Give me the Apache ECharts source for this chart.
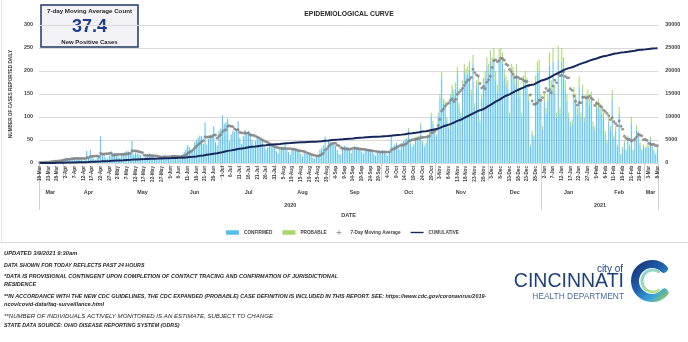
<!DOCTYPE html>
<html>
<head>
<meta charset="utf-8">
<script src="https://cdn.jsdelivr.net/npm/echarts@6/dist/echarts.min.js"></script>
<style>
html,body{margin:0;padding:0;background:#ffffff;}
#c{width:688px;height:342px;}
</style>
</head>
<body>
<div id="c"></div>
<script>
// ---------------- DATA ----------------
const startDate = '2020-03-18';
const dayCount = 356;            // 18-Mar-2020 .. 8-Mar-2021
const monthNames = ['Jan','Feb','Mar','Apr','May','Jun','Jul','Aug','Sep','Oct','Nov','Dec'];
const leftAxis = {min: 0, max: 300, step: 50};
const rightAxis = {min: 0, max: 30000, step: 5000};

// Confirmed cases reported daily
const confirmed = [
  // Mar 18-31 2020
  1,1,2,3,1,4,3,5,4,6,5,3,7,8,
  // Apr
  9,12,11,8,6,10,12,11,13,10, 7,5,9,26,12,28,14,9,7,12, 16,58,18,17,11,9,16,24,22,22,
  // May
  21,15,11,18,22,24,26,25,20,48, 18,22,20,19,18,12,10,15,19,21, 18,16,10,8,9,14,15,17,18,11,9,
  // Jun
  12,16,18,17,15,10,8,18,24,30, 39,34,26,28,45,50,55,60,58,42, 88,40,52,60,62,80,45,38,70,75,
  // Jul
  104,85,88,96,48,62,70,68,72,90, 55,42,58,72,66,70,64,50,38,48, 58,55,52,48,36,28,34,42,38,36,35,
  // Aug
  26,20,30,36,34,41,32,24,18,28, 32,30,29,27,20,14,22,20,19,18, 16,12,9,14,18,28,32,38,57,30,48,
  // Sep
  45,42,40,38,28,20,18,34,38,36, 35,30,22,28,36,34,33,31,25,20, 26,30,30,28,27,20,16,22,27,26,
  // Oct
  28,27,20,16,24,57,36,40,44,34, 28,38,48,52,52,71,43,34,40,52, 54,56,82,45,36,43,58,63,101,85,65,
  // Nov
  58,102,140,184,130,125,93,74,139,158, 148,162,194,121,102,167,199,190,194,203, 148,217,120,166,175,88,139,171,185,212,
  // Dec
  195,221,208,224,180,154,223,224,216,185, 172,162,100,193,189,171,193,162,144,100, 171,180,166,135,36,63,54,170,196,200,135,
  // Jan 2021
  72,134,108,135,212,160,220,152,98,224, 107,220,204,160,134,98,80,85,147,134, 107,166,98,150,89,134,142,125,138,80,71,
  // Feb
  120,124,116,107,98,62,44,89,71,140, 53,71,35,107,18,31,44,26,52,35, 86,26,48,72,61,39,26,35,
  // Mar 1-8
  31,35,34,50,37,26,18,31
];

// Probable cases reported daily
const probable = [
  // Mar 18-31 2020
  0,0,0,0,0,0,0,0,0,0,0,0,0,0,
  // Apr
  0,0,0,0,0,0,0,0,0,0, 0,0,0,0,0,0,0,0,0,0, 0,0,0,0,0,0,0,0,0,0,
  // May
  0,0,0,0,0,0,0,0,0,0, 0,0,0,0,0,0,0,0,0,0, 0,0,0,0,0,0,0,0,0,0,0,
  // Jun
  0,0,0,0,0,0,0,0,0,0, 0,0,0,0,0,0,0,0,0,0, 0,0,0,0,0,0,0,0,0,0,
  // Jul
  0,0,0,0,0,0,0,0,0,0, 0,0,0,0,0,0,0,0,0,0, 0,0,0,0,0,0,0,0,0,0,0,
  // Aug
  0,0,0,0,0,0,0,0,0,0, 0,0,0,0,0,0,0,0,0,0, 0,0,0,0,0,0,0,0,0,0,0,
  // Sep
  0,0,0,0,0,0,0,0,0,0, 0,0,0,0,0,0,0,0,0,0, 0,0,0,0,0,0,0,0,0,0,
  // Oct
  0,0,0,0,0,0,0,0,0,0, 0,0,0,0,3,5,2,2,2,4, 4,4,6,3,2,3,4,5,8,7,5,
  // Nov
  4,8,10,14,10,10,7,6,11,12, 12,13,15,9,8,13,16,15,16,17, 12,18,10,14,15,7,11,14,15,18,
  // Dec
  20,24,22,26,20,16,25,26,24,20, 18,18,10,22,21,19,22,18,16,10, 19,20,19,15,4,7,6,20,24,25,15,
  // Jan 2021
  8,16,12,15,28,20,30,18,12,32, 13,30,26,20,16,12,10,10,18,16, 13,22,12,20,11,16,18,15,17,10,9,
  // Feb
  15,16,14,13,12,8,6,11,9,18, 7,9,5,15,2,4,6,4,8,5, 14,4,7,11,9,6,4,5,
  // Mar 1-8
  4,5,4,7,5,4,2,4
];

const boxTitle = '7-day Moving Average Count';
const boxSubtitle = 'New Positive Cases';
const chartTitle = 'EPIDEMIOLOGICAL CURVE';
const yAxisTitle = 'NUMBER OF CASES REPORTED DAILY';
const xAxisTitle = 'DATE';
const legendNames = ['CONFIRMED', 'PROBABLE', '7-Day Moving Average', 'CUMULATIVE'];
const footnoteLines = [
  'UPDATED 3/9/2021 9:30am',
  'DATA SHOWN FOR TODAY REFLECTS PAST 24 HOURS',
  '*DATA IS PROVISIONAL CONTINGENT UPON COMPLETION OF CONTACT TRACING AND CONFIRMATION OF JURISDICTIONAL',
  'RESIDENCE',
  '**IN ACCORDANCE WITH THE NEW CDC GUIDELINES, THE CDC EXPANDED (PROBABLE) CASE DEFINITION IS INCLUDED IN THIS REPORT. SEE: https://www.cdc.gov/coronavirus/2019-',
  'ncov/covid-data/faq-surveillance.html',
  '**NUMBER OF INDIVIDUALS ACTIVELY MONITORED IS AN ESTIMATE, SUBJECT TO CHANGE',
  'STATE DATA SOURCE: OHIO DISEASE REPORTING SYSTEM (ODRS)'
];

// ---------------- DERIVED ----------------
const dates = [];
(function(){
  const p = startDate.split('-').map(Number);
  for (let i = 0; i < dayCount; i++) {
    const d = new Date(Date.UTC(p[0], p[1] - 1, p[2] + i));
    dates.push(d.toISOString().slice(0, 10));
  }
})();
const totals = confirmed.map((v, i) => v + probable[i]);
const movingAvg = totals.map((v, i) => {
  const s = Math.max(0, i - 6);
  let sum = 0;
  for (let k = s; k <= i; k++) sum += totals[k];
  return +(sum / (i - s + 1)).toFixed(2);
});
const cumulative = [];
totals.reduce((acc, v) => { acc += v; cumulative.push(acc); return acc; }, 0);

// month / year segments for multi-level axis
const monthStart = new Set(), monthMid = new Set(), yearStart = new Set(), yearMid = new Set();
(function(){
  let segStart = 0, ySegStart = 0;
  for (let i = 1; i <= dates.length; i++) {
    const newMonth = i === dates.length || dates[i].slice(5, 7) !== dates[i - 1].slice(5, 7);
    if (newMonth) {
      monthMid.add(Math.floor((segStart + i - 1) / 2));
      if (i < dates.length) monthStart.add(i);
      segStart = i;
    }
    const newYear = i === dates.length || dates[i].slice(0, 4) !== dates[i - 1].slice(0, 4);
    if (newYear) {
      yearMid.add(Math.floor((ySegStart + i - 1) / 2));
      if (i < dates.length) yearStart.add(i);
      ySegStart = i;
    }
  }
})();

// ---------------- CHART ----------------
const FONT = '"Liberation Sans",Arial,sans-serif';
const LOGOFONT = '"Liberation Sans","DejaVu Sans",sans-serif';
const TXT = '#404040';
const chart = echarts.init(document.getElementById('c'), null, {renderer: 'canvas', width: 688, height: 342});

const dayLabel = v => (+v.slice(8)) + '-' + monthNames[+v.slice(5, 7) - 1];
const baseX = {type: 'category', data: dates, gridIndex: 0, boundaryGap: true, position: 'bottom'};

const footY = [253, 266, 276, 284, 296, 304, 316, 326];
const footFont = ['italic bold 5.8px ', 'italic bold 5.3px ', 'italic bold 5.5px ', 'italic bold 5.5px ',
                  'italic bold 5.45px ', 'italic bold 5.6px ', 'italic 6.1px ', 'italic bold 5.35px '];
const footGraphics = footnoteLines.map((t, i) => ({
  type: 'text', silent: true,
  style: {
    text: t, x: 4, y: footY[i], textVerticalAlign: 'middle',
    fill: '#262626',
    font: footFont[i] + FONT
  }
}));

const option = {
  animation: false,
  backgroundColor: '#ffffff',
  textStyle: {fontFamily: FONT},
  grid: {left: 35.8, right: 29.7, top: 25, bottom: 179, containLabel: false},
  legend: {
    left: 226, top: 230, padding: 0, itemWidth: 13, itemHeight: 4.5, itemGap: 10,
    textStyle: {fontSize: 4.7, fontWeight: 'bold', color: TXT, fontFamily: FONT},
    data: [
      {name: legendNames[0], icon: 'rect'},
      {name: legendNames[1], icon: 'rect'},
      {name: legendNames[2], icon: 'path://M2,0H3V2H5V3H3V5H2V3H0V2H2Z'},
      {name: legendNames[3], icon: 'path://M0,0H17V1.8H0Z'}
    ]
  },
  xAxis: [
    Object.assign({}, baseX, {
      axisLine: {show: true, lineStyle: {color: '#d9d9d9'}},
      axisTick: {show: false},
      axisLabel: {interval: 4, rotate: 90, margin: 3, fontSize: 4.7, fontWeight: 'bold', color: TXT, formatter: dayLabel},
      name: xAxisTitle, nameLocation: 'middle', nameGap: 49,
      nameTextStyle: {fontSize: 5.6, fontWeight: 'bold', color: TXT}
    }),
    Object.assign({}, baseX, {
      offset: 19,
      axisLine: {show: false},
      axisTick: {show: true, interval: (i) => monthStart.has(i), length: 18, lineStyle: {color: '#d0d0d0'}},
      axisLabel: {interval: (i) => monthMid.has(i), margin: 8, fontSize: 5.4, fontWeight: 'bold', color: TXT,
        formatter: v => monthNames[+v.slice(5, 7) - 1]}
    }),
    Object.assign({}, baseX, {
      offset: 19,
      axisLine: {show: false},
      axisTick: {show: true, interval: (i) => i === 0 || yearStart.has(i), length: 28, lineStyle: {color: '#d0d0d0'}},
      axisLabel: {interval: (i) => yearMid.has(i), margin: 21, fontSize: 5.4, fontWeight: 'bold', color: TXT,
        formatter: v => v.slice(0, 4)}
    }),
    Object.assign({}, baseX, {
      offset: 0,
      axisLine: {show: false},
      axisTick: {show: true, interval: (i) => i === 0, length: 47, lineStyle: {color: '#d0d0d0'}},
      axisLabel: {show: false}
    })
  ],
  yAxis: [
    {
      type: 'value', min: leftAxis.min, max: leftAxis.max, interval: leftAxis.step,
      axisLine: {show: false}, axisTick: {show: false},
      splitLine: {lineStyle: {color: '#d9d9d9'}},
      axisLabel: {margin: 6, fontSize: 5.4, fontWeight: 'bold', color: TXT, formatter: v => String(v)},
      name: yAxisTitle, nameLocation: 'middle', nameGap: 17, nameRotate: 90,
      nameTextStyle: {fontSize: 4.7, fontWeight: 'bold', color: TXT}
    },
    {
      type: 'value', position: 'right', min: rightAxis.min, max: rightAxis.max, interval: rightAxis.step,
      axisLine: {show: false}, axisTick: {show: false}, splitLine: {show: false},
      axisLabel: {margin: 7, fontSize: 5.4, fontWeight: 'bold', color: TXT, formatter: v => String(v)}
    }
  ],
  series: [
    {name: legendNames[0], type: 'bar', stack: 'daily', data: confirmed, xAxisIndex: 0, yAxisIndex: 0,
      barCategoryGap: '42%', itemStyle: {color: '#55c0ec'}, z: 2},
    {name: legendNames[1], type: 'bar', stack: 'daily', data: probable, xAxisIndex: 0, yAxisIndex: 0,
      itemStyle: {color: '#a8d66a'}, z: 2},
    {name: legendNames[2], type: 'scatter', data: movingAvg, xAxisIndex: 0, yAxisIndex: 0,
      symbol: 'circle', symbolSize: 2.9, itemStyle: {color: '#7f7f7f'}, z: 4},
    {name: legendNames[3], type: 'line', data: cumulative, xAxisIndex: 0, yAxisIndex: 1,
      symbol: 'none', showSymbol: false, lineStyle: {color: '#17275a', width: 2}, itemStyle: {color: '#17275a'}, z: 5}
  ],
  graphic: [
    // outer frame lines
    {type: 'line', silent: true, shape: {x1: 0, y1: 242.5, x2: 688, y2: 242.5}, style: {stroke: '#d9d9d9', lineWidth: 1}},
    {type: 'line', silent: true, shape: {x1: 1.5, y1: 0, x2: 1.5, y2: 242.5}, style: {stroke: '#e6e6e6', lineWidth: 1}},
    // title
    {type: 'text', silent: true, style: {text: chartTitle, x: 349, y: 14, textAlign: 'center', textVerticalAlign: 'middle',
      fill: '#262626', font: 'bold 6.8px ' + FONT}},
    // moving-average box
    {type: 'rect', silent: true, shape: {x: 41, y: 5, width: 97, height: 42},
      style: {fill: '#f3f3f7', stroke: '#1f3864', lineWidth: 1.5}},
    {type: 'text', silent: true, style: {text: boxTitle, x: 89.5, y: 11, textAlign: 'center', textVerticalAlign: 'middle',
      fill: '#262626', font: 'bold 6.2px ' + FONT}},
    {type: 'text', silent: true, style: {text: movingAvg[movingAvg.length - 1].toFixed(1), x: 89.5, y: 27, textAlign: 'center', textVerticalAlign: 'middle',
      fill: '#1f3c88', font: 'bold 18px ' + LOGOFONT}},
    {type: 'text', silent: true, style: {text: boxSubtitle, x: 89.5, y: 42, textAlign: 'center', textVerticalAlign: 'middle',
      fill: '#262626', font: 'bold 6px ' + FONT}},
    // logo
    {type: 'text', silent: true, style: {text: 'city of', x: 623, y: 269, textAlign: 'right', textVerticalAlign: 'middle',
      fill: '#1e3f78', font: '10px ' + LOGOFONT}},
    {type: 'text', silent: true, style: {text: 'CINCINNATI', x: 624, y: 282, textAlign: 'right', textVerticalAlign: 'middle',
      fill: '#1e3f78', font: '19.5px ' + LOGOFONT}},
    {type: 'text', silent: true, style: {text: 'HEALTH DEPARTMENT', x: 624, y: 297, textAlign: 'right', textVerticalAlign: 'middle',
      fill: '#4a6a96', font: '8.4px ' + LOGOFONT}},
    {type: 'arc', silent: true, shape: {cx: 652, cy: 281, r: 17, startAngle: -0.8, endAngle: 0.75, clockwise: false},
      style: {fill: 'none', lineWidth: 8, lineCap: 'round',
        stroke: new echarts.graphic.LinearGradient(0, 0, 1, 1, [
          {offset: 0, color: '#16296a'}, {offset: 0.45, color: '#1f5fae'}, {offset: 0.75, color: '#3aa6d8'}, {offset: 1, color: '#b9d530'}])}},
    {type: 'arc', silent: true, shape: {cx: 653, cy: 281, r: 11, startAngle: -0.9, endAngle: 0.9, clockwise: false},
      style: {fill: 'none', lineWidth: 3,
        stroke: new echarts.graphic.LinearGradient(0, 0, 1, 1, [
          {offset: 0, color: '#7fcfe8'}, {offset: 1, color: '#c6e27a'}])}}
  ].concat(footGraphics)
};
chart.setOption(option);
</script>
</body>
</html>
